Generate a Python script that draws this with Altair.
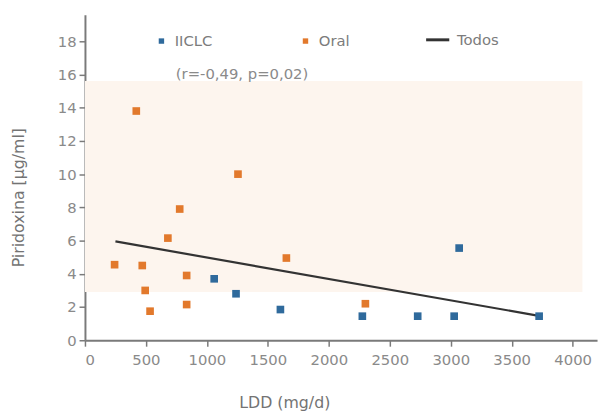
import altair as alt
import pandas as pd

# ---- data ----
oral_x = [243, 421, 470, 494, 534, 680, 777, 834, 834, 1255, 1652, 2300]
oral_y = [4.55, 13.8, 4.5, 3.0, 1.75, 6.15, 7.9, 3.9, 2.15, 10.0, 4.95, 2.2]
iiclc_x = [1060, 1239, 1603, 2275, 2729, 3028, 3069, 3725]
iiclc_y = [3.7, 2.8, 1.85, 1.45, 1.45, 1.45, 5.55, 1.45]
fit_x = [250, 3700]
fit_y = [5.95, 1.5]
band_x = [0, 4080]
band_y = [2.9, 15.6]
x_ticks = [0, 500, 1000, 1500, 2000, 2500, 3000, 3500, 4000]
y_ticks = [0, 2, 4, 6, 8, 10, 12, 14, 16, 18]
annot_text = ["(r=-0,49, p=0,02)"]
annot_x = [745]
annot_y = [16.0]

groups = ["IICLC", "Oral"]
group_colors = ["#2f6a9c", "#e2792c"]
FONT = "DejaVu Sans"
GREY = "#8a8a8a"

pts = pd.DataFrame({
    "ldd": iiclc_x + oral_x,
    "pir": iiclc_y + oral_y,
    "grupo": ["IICLC"] * len(iiclc_x) + ["Oral"] * len(oral_x),
})
fit = pd.DataFrame({"ldd": fit_x, "pir": fit_y, "serie": ["Todos"] * 2})
band = pd.DataFrame({"x": [band_x[0]], "x2": [band_x[1]], "y": [band_y[0]], "y2": [band_y[1]]})
annot = pd.DataFrame({"t": annot_text, "x": annot_x, "y": annot_y})

xs = alt.Scale(domain=[0, 4200], nice=False, zero=False)
ys = alt.Scale(domain=[0, 19.6], nice=False)
xaxis = alt.Axis(values=x_ticks, title="LDD (mg/d)", grid=False, format="d",
                 labelOverlap=False, labelPadding=7,
                 titleX=202, titleY=63, titleAlign="center", titleBaseline="middle")
yaxis = alt.Axis(values=y_ticks, title="Piridoxina [µg/ml]", grid=False, format="d",
                 labelOverlap=False, titleY=185, titlePadding=31, labelPadding=3)


def X(f):
    return alt.X(f, scale=xs, axis=xaxis)


def Y(f):
    return alt.Y(f, scale=ys, axis=yaxis)


rect = alt.Chart(band).mark_rect(color="#fdf5ee").encode(
    x=X("x:Q"), x2="x2:Q", y=Y("y:Q"), y2="y2:Q",
)

points = alt.Chart(pts).mark_square(size=60, opacity=1).encode(
    x=X("ldd:Q"),
    y=Y("pir:Q"),
    fill=alt.Fill("grupo:N", scale=alt.Scale(domain=groups, range=group_colors),
                  legend=alt.Legend(title=None, orient="none", legendX=70, legendY=19,
                                    direction="horizontal", columnPadding=86,
                                    symbolType="square", symbolSize=30,
                                    labelOffset=6)),
)

line = alt.Chart(fit).mark_line(strokeWidth=2.2).encode(
    x=X("ldd:Q"),
    y=Y("pir:Q"),
    stroke=alt.Stroke("serie:N", scale=alt.Scale(domain=["Todos"], range=["#333333"]),
                      legend=alt.Legend(title=None, orient="none", legendX=344, legendY=12,
                                        direction="horizontal",
                                        symbolType="stroke", symbolSize=550,
                                        symbolStrokeWidth=3, labelOffset=6)),
)

text = alt.Chart(annot).mark_text(align="left", baseline="middle", font=FONT,
                                   fontSize=15, color=GREY).encode(
    x=X("x:Q"),
    y=Y("y:Q"),
    text="t:N",
)

chart = alt.layer(rect, line, points, text).properties(
    width=519, height=330,
    background="white",
    autosize=alt.AutoSizeParams(type="none"),
    padding={"left": 78, "top": 4, "right": 4, "bottom": 74},
).configure_view(stroke=None).configure_axis(
    domainColor="#7a7a7a", domainWidth=2, tickColor="#7a7a7a", tickWidth=1.5,
    tickSize=6, labelFont=FONT, labelFontSize=15, labelColor=GREY,
    titleFont=FONT, titleFontSize=16, titleColor="#737373", titleFontWeight="normal",
).configure_legend(
    labelFont=FONT, labelFontSize=15, labelColor="#7c7c7c",
)

chart.save("out.html", embed_options={"renderer": "svg", "actions": False})
